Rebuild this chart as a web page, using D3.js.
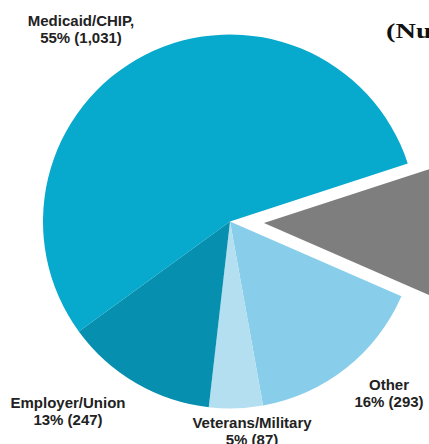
<!DOCTYPE html>
<html>
<head>
<meta charset="utf-8">
<script src="https://cdn.jsdelivr.net/npm/d3@7"></script>
<style>
  html, body { margin: 0; padding: 0; background: #ffffff; overflow: hidden; }
  svg { display: block; }
</style>
</head>
<body>
<script>
// ---- data ----
const categories = ["(cropped)", "Other", "Veterans/Military", "Employer/Union", "Medicaid/CHIP"];
const counts     = [217, 293, 87, 247, 1031];
const percents   = [11, 16, 5, 13, 55];
const countLabels = ["", "293", "87", "247", "1,031"];
const colors     = ["#7e7e7e", "#88ceea", "#b3dff1", "#078fb0", "#07a9cc"];
const exploded   = [true, false, false, false, false];
const titleText  = "(Number of Children)";

// ---- layout ----
const W = 429, H = 444;
const cx = 230, cy = 221.5, R = 187;
const explodeDist = 34;
const startDeg = 71.9;

const svg = d3.select("body").append("svg").attr("width", W).attr("height", H);

const pie = d3.pie().sort(null).value(d => d)
  .startAngle(startDeg * Math.PI / 180)
  .endAngle(startDeg * Math.PI / 180 + 2 * Math.PI);
const arcs = pie(counts);
const arc = d3.arc().innerRadius(0).outerRadius(R);

const g = svg.append("g").attr("transform", `translate(${cx},${cy})`);
g.selectAll("path").data(arcs).join("path")
  .attr("d", arc)
  .attr("fill", (d, i) => colors[i])
  .attr("transform", (d, i) => {
    if (!exploded[i]) return null;
    const a = (d.startAngle + d.endAngle) / 2;
    return `translate(${explodeDist * Math.sin(a)},${-explodeDist * Math.cos(a)})`;
  });

// ---- labels ----
const labelPos = {
  "Medicaid/CHIP": [81, 26, ","],
  "Employer/Union": [68, 408, ""],
  "Veterans/Military": [252, 428, ""],
  "Other": [389, 390, ""]
};
const lineH = 16.5;
categories.forEach((c, i) => {
  const p = labelPos[c];
  if (!p) return;
  const t = svg.append("text")
    .attr("x", p[0]).attr("y", p[1])
    .attr("text-anchor", "middle")
    .attr("font-family", "'Liberation Sans', Arial, sans-serif")
    .attr("font-weight", "bold")
    .attr("font-size", 15)
    .attr("fill", "#222");
  t.append("tspan").attr("x", p[0]).attr("y", p[1]).text(c + p[2]);
  t.append("tspan").attr("x", p[0]).attr("y", p[1] + lineH)
    .text(`${percents[i]}% (${countLabels[i]})`);
});

// ---- cropped title ----
svg.append("text")
  .attr("transform", "translate(386,38) scale(1.35,1)")
  .attr("font-family", "'Liberation Serif', 'Times New Roman', serif")
  .attr("font-weight", "bold")
  .attr("font-size", 21)
  .attr("fill", "#111")
  .text(titleText);
</script>
</body>
</html>
